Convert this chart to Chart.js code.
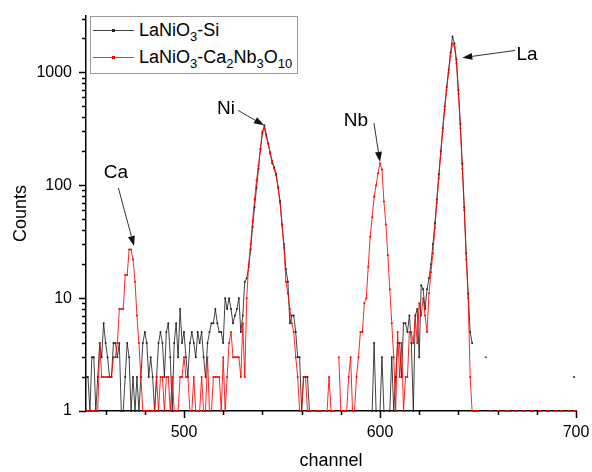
<!DOCTYPE html>
<html>
<head>
<meta charset="utf-8">
<script src="https://cdn.jsdelivr.net/npm/chart.js@4.4.1/dist/chart.umd.min.js"></script>
<style>
  body { margin: 0; background: #fff; }
  #wrap { position: relative; width: 592px; height: 472px; font-family: "Liberation Sans", Arial, sans-serif; }
  #chart { display: block; }
  #legend { position: absolute; box-sizing: border-box; width: 208px; height: 58px; border: 1px solid #999; background: #fff; }
  .row { position: absolute; left: 0; height: 28px; line-height: 28px; font-size: 18px; white-space: nowrap; color: #000; }
  .swatch { position: absolute; left: 2px; top: 14px; width: 41px; height: 0; border-top: 1px solid; }
  .swatch i { position: absolute; left: 19px; top: -2px; width: 3px; height: 3px; }
  .row .txt { position: absolute; left: 48px; }
  sub { font-size: 13px; line-height: 0; vertical-align: -5px; }
</style>
</head>
<body>
<div id="wrap">
  <canvas id="chart" width="592" height="472"></canvas>
  <div id="legend"></div>
</div>
<script>
const fontFamily = '"Liberation Sans", Arial, sans-serif';

// spectra start at channel 450, one count per channel (null = no counts)
const firstChannel = 450;

const siCounts = [
  2, 2, 1, 3, 3, 1, 2, 4, 3, 6,
  4, 3, 2, 2, 4, 4, 3, 4, 1, 1,
  2, 4, 3, 1, 2, 1, 2, 1, 2, 4,
  5, 4, 2, 3, 2, 1, 2, 4, 5, 4,
  2, 5, 6, 3, 1, 4, 6, 3, 8, 4,
  5, 3, 2, 4, 5, 4, 3, 5, 4, 5,
  3, 2, 4, 5, 6, 6, 8, 6, 5, 5,
  4, 10, 8, 10, 8, 6, 7, 8, 10, 5,
  7, 14, 15, 19, 27, 43, 64, 95, 140, 210,
  290, 340, 280, 235, 190, 157, 145, 126, 96, 73,
  45, 30, 18, 14, 6, 7, 7, 5, 3, 3,
  1, 2, 2, 2, 1, null, null, null, null, null,
  null, null, null, null, null, null, null, null, null, null,
  null, null, null, null, null, null, null, null, null, null,
  null, null, null, null, null, null, 1, 4, 1, null,
  1, 3, 1, null, null, 1, 3, 1, 2, 4,
  4, 2, 6, 6, 5, 7, 4, 1, 7, 8,
  3, 13, 12, 8, 12, 15, 20, 30, 46, 75,
  125, 200, 320, 500, 740, 1050, 1500, 2080, 1800, 1300,
  700, 350, 155, 64, 25, 11, 5, 4, null, null,
  null, null, null, null, null, null, null, null, null, null,
  null, null, null, null, null, null, null, null, null, null,
  null, null, null, null, null, null, null, null, null, null,
  null, null, null, null, null, null, null, null, null, null,
  null, null, null, null, null, null, null, null, null, 2,
  null
];

const cnoCounts = [
  1, 1, 1, 1, 1, 1, 1, 4, 2, 2,
  2, 2, 2, 2, 3, 3, 4, 8, 8, 8,
  16, 16, 27, 27, 22, 14, 7, 4, 2, 1,
  1, 1, 1, 1, 1, 1, 2, 1, 2, 2,
  1, 2, 2, 1, 2, 1, 1, 1, 2, 2,
  3, 2, 2, 1, 1, 2, 1, 1, 1, 2,
  1, 1, 3, 1, 1, 2, 2, 2, 2, 1,
  3, 1, 2, 4, 5, 3, 3, 3, 3, 2,
  6, 2, 10, 20, 30, 48, 75, 110, 150, 210,
  300, 320, 270, 232, 195, 165, 140, 122, 95, 70,
  45, 28, 14, 11, 8, 6, 5, 3, 2, 1,
  1, 2, 2, 1, 1, 1, null, 1, 1, 1,
  1, null, 1, 1, 2, 1, 1, 1, null, 3,
  1, 1, 1, 1, 2, 3, 1, 1, 2, 3,
  5, 5, 9, 10, 19, 35, 52, 79, 100, 128,
  157, 138, 72, 45, 24, 12, 6, 3, 1, 5,
  2, 4, 1, 2, 2, 5, 5, 4, 7, 4,
  9, 7, 10, 7, 5, 11, 17, 25, 42, 70,
  115, 190, 300, 470, 700, 1000, 1400, 1800, 1700, 1200,
  650, 320, 140, 60, 22, 10, 2, 1, 1, 1,
  1, null, null, null, 3, null, 1, 1, null, null,
  1, 1, null, null, 1, 1, 1, null, null, 1,
  1, null, null, 1, 1, null, null, 1, 1, null,
  null, 1, 1, null, null, 1, 1, null, null, 1,
  1, null, 1, 1, null, null, 1, 1, null, 1,
  1
];

const seriesNames = ['LaNiO3-Si', 'LaNiO3-Ca2Nb3O10'];
const xTickLabels = [500, 600, 700];
const yTickLabels = [1, 10, 100, 1000];

// element labels: text position, arrow tail and arrow tip in (channel, counts)
const peakMarks = [
  { name: 'Ca', text: [465.3, 130], from: [466.5, 95], to: [474.5, 29] },
  { name: 'Ni', text: [521.4, 480], from: [527.6, 461], to: [540.8, 340] },
  { name: 'Nb', text: [587.7, 372], from: [596.9, 356], to: [600, 161] },
  { name: 'La', text: [675, 1443], from: [668.9, 1566], to: [642, 1350] }
];

const toPoints = (counts) => counts.map((c, i) => ({ x: firstChannel + i, y: c }));

function withSubscripts(label) {
  return label.replace(/(\d+)/g, '<sub>$1</sub>');
}

// legend box with chemical subscripts
const htmlLegend = {
  id: 'htmlLegend',
  afterUpdate(chart) {
    const box = document.getElementById('legend');
    box.style.left = (chart.chartArea.left + 4) + 'px';
    box.style.top = chart.chartArea.top + 'px';
    box.innerHTML = '';
    chart.data.datasets.forEach((ds, i) => {
      const row = document.createElement('div');
      row.className = 'row';
      row.style.top = (-1 + i * 27.4) + 'px';
      row.innerHTML = '<div class="swatch" style="border-color:' + ds.borderColor + '"><i style="background:' + ds.pointBackgroundColor + '"></i></div>' +
        '<span class="txt">' + withSubscripts(ds.label) + '</span>';
      box.appendChild(row);
    });
  }
};

// outward tick marks, long on labelled values and short in between
const axisTicks = {
  id: 'axisTicks',
  afterDraw(chart) {
    const { ctx, scales: { x, y } } = chart;
    const xBase = x.top, yBase = y.right;
    ctx.save();
    ctx.strokeStyle = '#000';
    ctx.lineWidth = 1.5;
    ctx.beginPath();
    for (let v = 460; v <= x.max; v += 20) {
      const px = Math.round(x.getPixelForValue(v)) + 0.5;
      const len = xTickLabels.includes(v) ? 7 : 4;
      ctx.moveTo(px, xBase);
      ctx.lineTo(px, xBase + len);
    }
    yTickLabels.forEach(decade => {
      for (let m = 1; m <= 9; m++) {
        const v = m * decade;
        if (v > y.max) break;
        const py = Math.round(y.getPixelForValue(v)) + 0.5;
        const len = m === 1 ? 7 : 4;
        ctx.moveTo(yBase, py);
        ctx.lineTo(yBase - len, py);
      }
    });
    ctx.stroke();
    ctx.restore();
  }
};

// element names with arrows pointing at their peaks
const peakArrows = {
  id: 'peakArrows',
  afterDatasetsDraw(chart) {
    const { ctx, scales: { x, y } } = chart;
    ctx.save();
    ctx.font = '19px ' + fontFamily;
    ctx.textAlign = 'center';
    ctx.textBaseline = 'middle';
    peakMarks.forEach(p => {
      ctx.fillStyle = '#000';
      ctx.fillText(p.name, x.getPixelForValue(p.text[0]), y.getPixelForValue(p.text[1]));
      const x0 = x.getPixelForValue(p.from[0]), y0 = y.getPixelForValue(p.from[1]);
      const x1 = x.getPixelForValue(p.to[0]), y1 = y.getPixelForValue(p.to[1]);
      const a = Math.atan2(y1 - y0, x1 - x0);
      const len = 10, half = 3.5;
      const bx = x1 - len * Math.cos(a), by = y1 - len * Math.sin(a);
      ctx.strokeStyle = '#333';
      ctx.lineWidth = 1;
      ctx.beginPath();
      ctx.moveTo(x0, y0);
      ctx.lineTo(bx, by);
      ctx.stroke();
      ctx.fillStyle = '#111';
      ctx.beginPath();
      ctx.moveTo(x1, y1);
      ctx.lineTo(bx + half * Math.sin(a), by - half * Math.cos(a));
      ctx.lineTo(bx - half * Math.sin(a), by + half * Math.cos(a));
      ctx.closePath();
      ctx.fill();
    });
    ctx.restore();
  }
};

const ctx = document.getElementById('chart').getContext('2d');
new Chart(ctx, {
  type: 'line',
  data: {
    datasets: [{
      label: seriesNames[0],
      data: toPoints(siCounts),
      borderColor: 'rgba(20,20,20,0.8)',
      pointBackgroundColor: '#222',
      borderWidth: 1,
      pointRadius: 1,
      pointBorderWidth: 0,
      spanGaps: false,
      clip: false,
      order: 1
    }, {
      label: seriesNames[1],
      data: toPoints(cnoCounts),
      borderColor: 'rgba(255,0,0,0.85)',
      pointBackgroundColor: '#f00',
      borderWidth: 1,
      pointRadius: 1,
      pointBorderWidth: 0,
      spanGaps: false,
      clip: false,
      order: 0
    }]
  },
  options: {
    responsive: false,
    animation: false,
    layout: { padding: { left: 0, top: 16, right: 16, bottom: 0 } },
    plugins: {
      legend: { display: false },
      tooltip: { enabled: false }
    },
    scales: {
      x: {
        type: 'linear',
        min: 450,
        max: 700,
        afterBuildTicks: s => { s.ticks = xTickLabels.map(v => ({ value: v })); },
        afterFit: s => { s.height = 61; s.paddingLeft = 0; s.paddingRight = 0; },
        grid: { display: false, drawTicks: false },
        border: { color: '#000', width: 1.5 },
        ticks: { padding: 12, maxRotation: 0, color: '#000', font: { size: 16, family: fontFamily } },
        title: { display: true, text: 'channel', color: '#000', font: { size: 18, family: fontFamily }, padding: { top: 0, bottom: 0 } }
      },
      y: {
        type: 'logarithmic',
        min: 1,
        max: 3162,
        afterBuildTicks: s => { s.ticks = yTickLabels.map(v => ({ value: v })); },
        afterFit: s => { s.width = 86; s.paddingTop = 0; s.paddingBottom = 0; },
        grid: { display: false, drawTicks: false },
        border: { color: '#000', width: 1.5 },
        ticks: { padding: 14, color: '#000', font: { size: 16, family: fontFamily }, callback: v => String(v) },
        title: { display: true, text: 'Counts', color: '#000', font: { size: 18, family: fontFamily }, padding: { top: 10.7, bottom: 0 } }
      }
    }
  },
  plugins: [htmlLegend, axisTicks, peakArrows]
});
</script>
</body>
</html>
